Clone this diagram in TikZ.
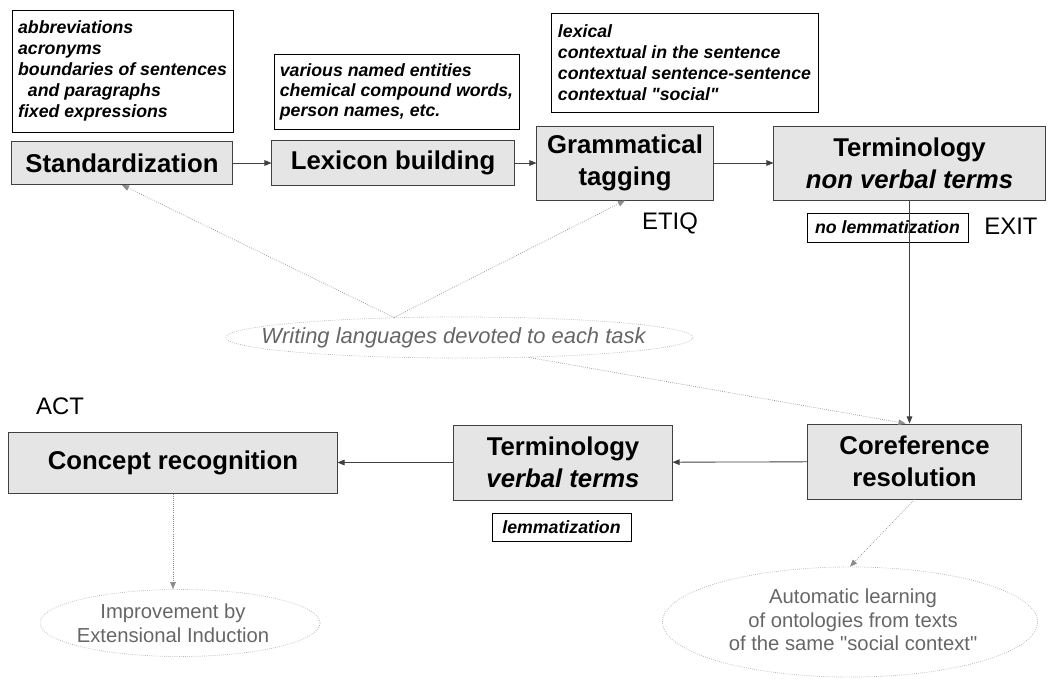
\documentclass[tikz,border=0pt]{standalone}
\usepackage{fontspec}
\setmainfont{Liberation Sans}[Ligatures=TeXOff]
\usepackage{xcolor}
\definecolor{boxgray}{rgb}{0.9, 0.9, 0.9}
\definecolor{linegray}{rgb}{0.25, 0.25, 0.25}
\definecolor{dotgray}{rgb}{0.55, 0.55, 0.55}
\definecolor{textgray}{rgb}{0.4, 0.4, 0.4}
\usetikzlibrary{arrows.meta,positioning,shapes.geometric,calc}
\tikzset{
  >={Triangle[length=5pt,width=4pt]},
  stage/.style={rectangle,draw=linegray,line width=0.7pt,fill=boxgray,align=center,inner sep=0pt,
    font=\fontsize{18.3}{22.8}\selectfont\bfseries},
  note/.style={rectangle,draw,line width=0.6pt,align=left,inner sep=0pt,
    font=\fontsize{12.6}{15}\selectfont\bfseries\itshape},
  stamp/.style={font=\fontsize{17}{20}\selectfont},
  idea/.style={ellipse,draw=dotgray!70,densely dotted,line width=0.5pt,inner sep=0pt},
  ideatext/.style={text=textgray,align=center,inner sep=0pt,font=\fontsize{14.4}{16.8}\selectfont},
  flow/.style={->,draw=linegray,line width=0.6pt},
  hint/.style={->,densely dotted,draw=dotgray,line width=0.5pt}
}

\begin{document}
\begin{tikzpicture}[x=0.025cm,y=-0.025cm]
  \useasboundingbox (0,0) rectangle (1049,678);

  % processing stages
  \node[stage,minimum width=5.5cm,minimum height=1.075cm] (std) at (122,163) {Standardization};
  \node[stage,minimum width=6.05cm,minimum height=1.125cm] (lex) at (393,163) {Lexicon building};
  \node[stage,minimum width=4.4cm,minimum height=1.85cm] (gram) at (625,163) {Grammatical\\tagging};
  \node[stage,minimum width=6.775cm,minimum height=1.85cm] (tnv) at (909.5,163) {Terminology\\\textit{non verbal terms}};
  \node[stage,minimum width=5.325cm,minimum height=1.875cm] (coref) at (914.5,461.5) {Coreference\\resolution};
  \node[stage,minimum width=5.45cm,minimum height=1.875cm] (tv) at (563,462.5) {Terminology\\\textit{verbal terms}};
  \node[stage,minimum width=8.2cm,minimum height=1.525cm] (concept) at (173,462.5) {Concept recognition};

  % notes on the stages
  \node[note,minimum width=5.525cm,minimum height=3.05cm] (nstd) at (122.5,71)
    {abbreviations\\acronyms\\boundaries of sentences\\\ \ and paragraphs\\fixed expressions};
  \node[note,minimum width=6.125cm,minimum height=1.875cm,font=\fontsize{12.6}{14.2}\selectfont\bfseries\itshape] (nlex) at (396.5,91.5)
    {various named entities\\chemical compound words,\\person names, etc.};
  \node[note,minimum width=6.675cm,minimum height=2.475cm] (ngram) at (684.5,62.5)
    {lexical\\contextual in the sentence\\contextual sentence-sentence\\contextual "social"};
  \node[note,minimum width=4.025cm,minimum height=0.725cm] (nolem) at (887.5,227.5) {no lemmatization};
  \node[note,minimum width=3.475cm,minimum height=0.7cm] (lem) at (561.5,527) {lemmatization};

  \node[stamp] (etiq) at (670,223) {ETIQ};
  \node[stamp] (exit) at (1011,226) {EXIT};
  \node[stamp] (act) at (60,406) {ACT};

  % side ideas
  \node[idea,minimum width=11.675cm,minimum height=1.025cm] (wl) at (459.5,337.5) {};
  \node[ideatext,font=\fontsize{15.6}{17}\selectfont\itshape] (wltext) at (453.5,338) {Writing languages devoted to each task};
  \node[idea,minimum width=7cm,minimum height=1.675cm] (imp) at (180,623) {};
  \node[ideatext] (imptext) at (173,623) {Improvement by\\Extensional Induction};
  \node[idea,minimum width=9.375cm,minimum height=2.75cm] (auto) at (850,622) {};
  \node[ideatext] (autotext) at (853,620) {Automatic learning\\of ontologies from texts\\of the same "social context"};

  \draw[flow] (std) -- (lex);
  \draw[flow] (lex) -- (gram);
  \draw[flow] (gram) -- (tnv);
  \draw[flow] (tnv.south) -- (tnv.south |- coref.north);
  \draw[flow] (coref) -- (tv);
  \draw[flow] (tv) -- (concept);

  \draw[hint] (wl.163) -- (std.south);
  \draw[hint] (wl.163) -- (gram.south);
  \draw[hint] (wl.-16) -- ($(coref.north)+(-9,0)$);
  \draw[hint] (concept.south) -- (concept.south |- imp.north);
  \draw[hint] (coref.south) -- (auto.north);
\end{tikzpicture}
\end{document}
